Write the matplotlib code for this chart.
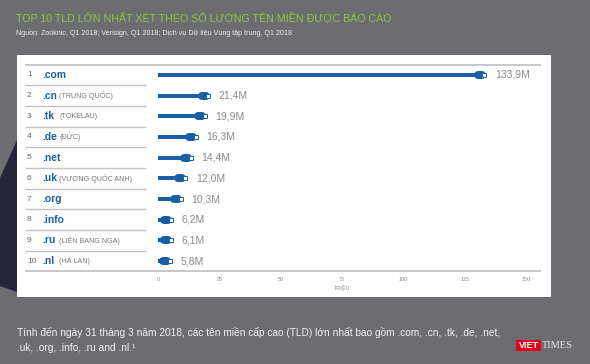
import numpy as np
import matplotlib
matplotlib.use('Agg')
from matplotlib import pyplot as plt
from matplotlib.patches import Rectangle, Polygon
from matplotlib.lines import Line2D
from matplotlib.transforms import blended_transform_factory

#%%# data #%%#
ranks = list(range(1, 11))
tlds = ['.com', '.cn', '.tk', '.de', '.net', '.uk', '.org', '.info', '.ru', '.nl']
countries = ['', '(TRUNG QUỐC)', '(TOKELAU)', '(ĐỨC)', '', '(VƯƠNG QUỐC ANH)',
             '', '', '(LIÊN BANG NGA)', '(HÀ LAN)']
values = [133.9, 21.4, 19.9, 16.3, 14.4, 12.0, 10.3, 6.2, 6.1, 5.8]
xticks = [0, 25, 50, 75, 100, 125, 150]

title = 'TOP 10 TLD LỚN NHẤT XÉT THEO SỐ LƯỢNG TÊN MIỀN ĐƯỢC BÁO CÁO'
source = 'Nguồn: Zooknic, Q1 2018; Verisign, Q1 2018; Dịch vụ Dữ liệu Vùng tập trung, Q1 2018'
caption1 = 'Tính đến ngày 31 tháng 3 năm 2018, các tên miền cấp cao (TLD) lớn nhất bao gồm .com, .cn, .tk, .de, .net,'
caption2 = '.uk, .org, .info, .ru and .nl.¹'

#%%# helpers (pixel -> figure coords) #%%#
W, H = 590, 364
def fx(px): return px / W
def fy(py): return 1 - py / H

plt.rcParams['font.family'] = ['Liberation Sans', 'DejaVu Sans']
blue = '#1a5fa5'
grey_txt = '#8a8a8a'

fig = plt.figure(figsize=(5.9, 3.64), dpi=100, facecolor='#6d6c71')

# dark picture on the left edge
fig.patches.append(Polygon([(fx(0), fy(178)), (fx(17), fy(140)), (fx(17), fy(292)), (fx(0), fy(286))],
                           closed=True, transform=fig.transFigure, facecolor='#25253a',
                           edgecolor='none', zorder=0))
# white card
fig.patches.append(Rectangle((fx(17), fy(297)), (551 - 17) / W, (297 - 55) / H,
                             transform=fig.transFigure, facecolor='white', edgecolor='none', zorder=1))

fig.text(fx(16), fy(17), title, color='#8dc63f', fontsize=7.7, va='center')
fig.text(fx(16), fy(33), source, color='#eeeeee', fontsize=5.1, va='center')

#%%# chart #%%#
ax = fig.add_axes([fx(158), fy(271), (526 - 158) / W, (271 - 65) / H])
ax.set_facecolor('none')
ax.set_zorder(2)
for s in ax.spines.values(): s.set_visible(False)
ax.set_xlim(0, 150)
ax.set_ylim(9.48, -0.48)

pxu = (526 - 158) / 150  # px per unit
ypos = np.arange(len(values))
vals = np.array(values)

ax.barh(ypos, vals - 9 / pxu, height=4 / 20.68, color=blue, edgecolor='none')
for i, v in enumerate(vals):
    ax.plot([v - 9 / pxu, v - 5 / pxu], [i, i], lw=8 * 0.72, color=blue, solid_capstyle='round')
    ax.plot(v - 2.2 / pxu, i, marker='s', ms=3.2 * 0.72, mfc='white', mec=blue, mew=0.7)
    lab = f'{v:.1f}'.replace('.', ',') + 'M'
    ax.annotate(lab, (v, i), xytext=(6, 0), textcoords='offset points', va='center',
                fontsize=7.5, color=grey_txt)

ax.set_xticks(xticks)
ax.set_yticks([])
ax.tick_params(axis='x', length=0, pad=4, labelsize=4, labelcolor=grey_txt)
ax.set_xlabel('TRIỆU', fontsize=4, color=grey_txt, labelpad=2)

# left column
trans = blended_transform_factory(fig.transFigure, ax.transData)
for i in range(len(values)):
    ax.text(fx(27), i, str(ranks[i]), transform=trans, va='center', fontsize=6, color='#666666')
    ax.text(fx(42), i, tlds[i], transform=trans, va='center', fontsize=7.4, fontweight='bold', color=blue)
    ax.text(fx(59), i, countries[i], transform=trans, va='center', fontsize=5.1, color='#777777')
    if i < len(values) - 1:
        ax.plot([fx(26), fx(145)], [i + 0.5, i + 0.5], transform=trans, color='#c4c4c4', lw=1, clip_on=False)

for yy in [65, 271]:
    fig.add_artist(Line2D([fx(26), fx(540)], [fy(yy), fy(yy)], transform=fig.transFigure,
                          color='#c8c8c8', lw=1.4, zorder=3))

#%%# caption + logo #%%#
fig.text(fx(17), fy(332), caption1, color='#f2f2f2', fontsize=7.25, va='center')
fig.text(fx(17), fy(348), caption2, color='#f2f2f2', fontsize=7.25, va='center')

fig.patches.append(Rectangle((fx(516), fy(351)), 25 / W, 11 / H, transform=fig.transFigure,
                             facecolor='#e3001b', edgecolor='none', zorder=4))
fig.text(fx(528.5), fy(345.5), 'VIET', color='white', fontsize=6.5, fontweight='bold',
         ha='center', va='center', zorder=5)
fig.text(fx(542), fy(346), 'TIMES', color='#e6e6e6', fontsize=7.5, family='Liberation Serif',
         va='center', zorder=5)

fig.savefig('out.png', dpi=100, facecolor=fig.get_facecolor())
